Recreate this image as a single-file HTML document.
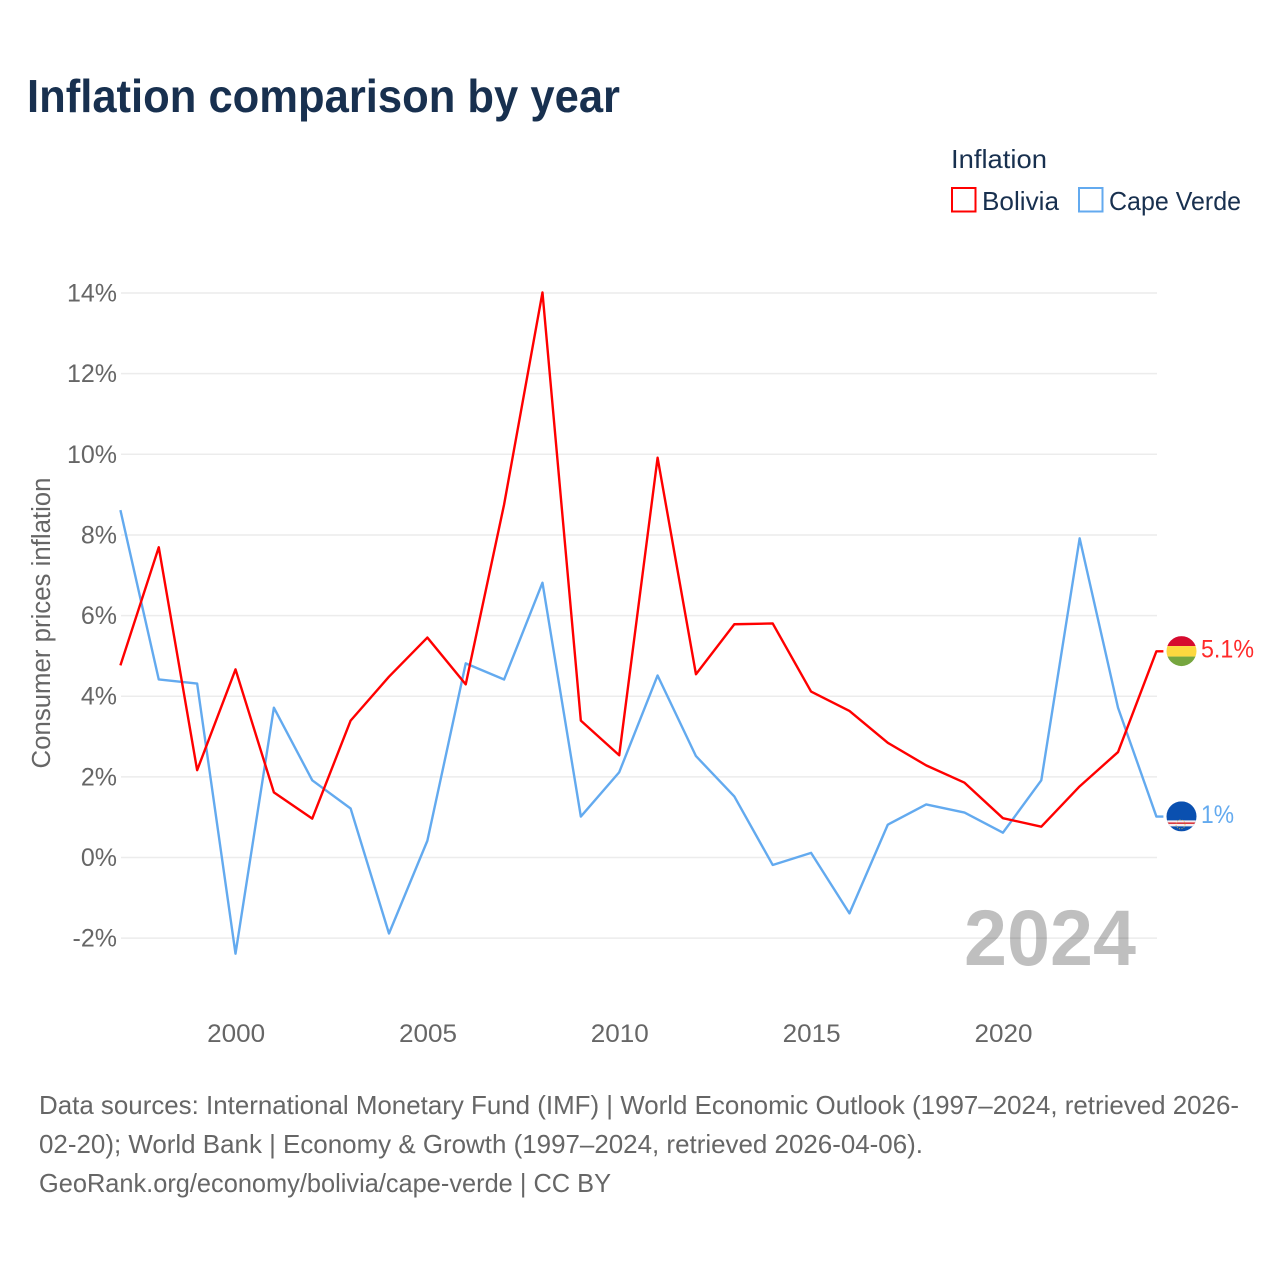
<!DOCTYPE html>
<html lang="en">
<head>
<meta charset="utf-8">
<title>Inflation comparison by year</title>
<style>
html,body{margin:0;padding:0;background:#fff;width:1280px;height:1280px;overflow:hidden}
svg{display:block}
text{font-family:"Liberation Sans",sans-serif}
</style>
</head>
<body>
<svg id="chart" width="1280" height="1280" viewBox="0 0 1280 1280" xmlns="http://www.w3.org/2000/svg">
  <defs>
    <clipPath id="flag-clip"><circle cx="0" cy="0" r="15"></circle></clipPath>
  </defs>
  <rect x="0" y="0" width="1280" height="1280" fill="#fff"></rect>
  <text x="27" y="112" font-size="46" font-weight="700" fill="#18304f" textLength="593" lengthAdjust="spacingAndGlyphs">Inflation comparison by year</text>

  <g>
    <text x="951" y="168" font-size="26" fill="#18304f" textLength="96" lengthAdjust="spacingAndGlyphs">Inflation</text>
    <g>
      <rect x="952" y="188" width="23.5" height="23.5" fill="none" stroke="#ff0000" stroke-width="2"></rect>
      <text x="982" y="210" font-size="26" fill="#18304f" textLength="77" lengthAdjust="spacingAndGlyphs">Bolivia</text>
    </g>
    <g>
      <rect x="1079" y="188" width="23.5" height="23.5" fill="none" stroke="#63aaef" stroke-width="2"></rect>
      <text x="1109" y="210" font-size="26" fill="#18304f" textLength="132" lengthAdjust="spacingAndGlyphs">Cape Verde</text>
    </g>
  </g>

  <g id="grid"></g>
  <g id="y-axis"></g>
  <g id="x-axis"></g>
  <text transform="translate(50,623) rotate(-90)" text-anchor="middle" font-size="25.5" fill="#666" textLength="291" lengthAdjust="spacingAndGlyphs">Consumer prices inflation</text>
  <text x="964" y="965" font-size="79" font-weight="700" fill="#000" fill-opacity="0.25" textLength="172" lengthAdjust="spacingAndGlyphs">2024</text>

  <g id="series" transform="translate(-0.6,-0.6)"></g>

  <g id="flag-bolivia">
    <g clip-path="url(#flag-clip)">
      <rect x="-15" y="-15" width="30" height="10" fill="#d60a2e"></rect>
      <rect x="-15" y="-5" width="30" height="10.5" fill="#fdd83f"></rect>
      <rect x="-15" y="5.5" width="30" height="10" fill="#76a63f"></rect>
    </g>
  </g>
  <g id="flag-cape-verde">
    <g clip-path="url(#flag-clip)">
      <rect x="-15" y="-15" width="30" height="30" fill="#0a50b0"></rect>
      <rect x="-15" y="4" width="30" height="6" fill="#f6eeee"></rect>
      <rect x="-15" y="6" width="30" height="1.6" fill="#d9363e"></rect>
      <circle cx="-1" cy="8" r="4.5" fill="none" stroke="#d8b94a" stroke-width="0.8" stroke-dasharray="1 1.5"></circle>
    </g>
  </g>

  <g font-size="26" fill="#666">
    <text x="39" y="1114" textLength="1200" lengthAdjust="spacingAndGlyphs">Data sources: International Monetary Fund (IMF) | World Economic Outlook (1997–2024, retrieved 2026-</text>
    <text x="39" y="1153" textLength="884" lengthAdjust="spacingAndGlyphs">02-20); World Bank | Economy &amp; Growth (1997–2024, retrieved 2026-04-06).</text>
    <text x="39" y="1192" textLength="572" lengthAdjust="spacingAndGlyphs">GeoRank.org/economy/bolivia/cape-verde | CC BY</text>
  </g>
</svg>
<script>
var years = [1997,1998,1999,2000,2001,2002,2003,2004,2005,2006,2007,2008,2009,2010,2011,2012,2013,2014,2015,2016,2017,2018,2019,2020,2021,2022,2023,2024];
var boliviaValues = [4.75,7.68,2.15,4.65,1.6,0.95,3.38,4.47,5.44,4.28,8.74,14,3.38,2.52,9.9,4.53,5.77,5.79,4.1,3.62,2.83,2.27,1.84,0.96,0.75,1.75,2.6,5.1];
var capeVerdeValues = [8.6,4.4,4.3,-2.4,3.7,1.9,1.2,-1.9,0.4,4.8,4.4,6.8,1.0,2.1,4.5,2.5,1.5,-0.2,0.1,-1.4,0.8,1.3,1.1,0.6,1.9,7.9,3.7,1.0];
var yTickValues = [-2,0,2,4,6,8,10,12,14];
var yTickLabels = ['-2%','0%','2%','4%','6%','8%','10%','12%','14%'];
var xTickValues = [2000,2005,2010,2015,2020];
var xTickLabels = ['2000','2005','2010','2015','2020'];
var endLabelBolivia = '5.1%';
var endLabelCapeVerde = '1%';

var NS = 'http://www.w3.org/2000/svg';
function xScale(year){ return 121 + (year - 1997) * (1157 - 121) / 27; }
function yScale(v){ return 857.5 - v * 40.32; }
function make(tag, parent){
  var el = document.createElementNS(NS, tag);
  parent.appendChild(el);
  return el;
}

var grid = document.getElementById('grid');
var yAxis = document.getElementById('y-axis');
var xAxis = document.getElementById('x-axis');
var seriesGroup = document.getElementById('series');
var root = document.getElementById('chart');

yTickValues.forEach(function(v, i){
  var line = make('line', grid);
  
  
  line.setAttribute('x1', 121);
  line.setAttribute('x2', 1157);
  line.setAttribute('y1', yScale(v));
  line.setAttribute('y2', yScale(v));
  line.setAttribute('stroke', '#ececec');
  line.setAttribute('stroke-width', '1.5');
  var t = make('text', yAxis);
  
  
  t.setAttribute('x', 117);
  t.setAttribute('y', yScale(v) + 8.5);
  t.setAttribute('text-anchor', 'end');
  t.setAttribute('font-size', '25');
  t.setAttribute('fill', '#666');
  t.textContent = yTickLabels[i];
});

xTickValues.forEach(function(year, i){
  var t = make('text', xAxis);
  
  
  t.setAttribute('x', xScale(year));
  t.setAttribute('y', 1042);
  t.setAttribute('text-anchor', 'middle');
  t.setAttribute('font-size', '25');
  t.setAttribute('fill', '#666');
  t.setAttribute('textLength', '58');
  t.setAttribute('lengthAdjust', 'spacingAndGlyphs');
  t.textContent = xTickLabels[i];
});

function pathFor(values){
  var d = values.map(function(v, i){
    return (i ? 'L' : 'M') + xScale(years[i]).toFixed(2) + ' ' + yScale(v).toFixed(2);
  }).join(' ');
  var last = values[values.length - 1];
  return d + ' L ' + (xScale(years[years.length - 1]) + 7) + ' ' + yScale(last).toFixed(2);
}

var capeLine = make('path', seriesGroup);


capeLine.setAttribute('d', pathFor(capeVerdeValues));
capeLine.setAttribute('fill', 'none');
capeLine.setAttribute('stroke', '#63aaef');
capeLine.setAttribute('stroke-width', '2.4');
capeLine.setAttribute('stroke-linejoin', 'round');

var bolLine = make('path', seriesGroup);


bolLine.setAttribute('d', pathFor(boliviaValues));
bolLine.setAttribute('fill', 'none');
bolLine.setAttribute('stroke', '#ff0000');
bolLine.setAttribute('stroke-width', '2.4');
bolLine.setAttribute('stroke-linejoin', 'round');

var bolLast = boliviaValues[boliviaValues.length - 1];
var capeLast = capeVerdeValues[capeVerdeValues.length - 1];
document.getElementById('flag-bolivia').setAttribute('transform', 'translate(1181.5,' + (yScale(bolLast) - 0.8) + ')');
document.getElementById('flag-cape-verde').setAttribute('transform', 'translate(1181.5,' + (yScale(capeLast) - 0.8) + ')');

var bolEnd = make('text', root);


bolEnd.setAttribute('x', 1201);
bolEnd.setAttribute('y', yScale(bolLast) + 5.5);
bolEnd.setAttribute('font-size', '25');
bolEnd.setAttribute('fill', '#ff2a2a');
bolEnd.setAttribute('textLength', '53');
bolEnd.setAttribute('lengthAdjust', 'spacingAndGlyphs');
bolEnd.textContent = endLabelBolivia;

var capeEnd = make('text', root);


capeEnd.setAttribute('x', 1201);
capeEnd.setAttribute('y', yScale(capeLast) + 6);
capeEnd.setAttribute('font-size', '25');
capeEnd.setAttribute('fill', '#63aaef');
capeEnd.setAttribute('textLength', '33');
capeEnd.setAttribute('lengthAdjust', 'spacingAndGlyphs');
capeEnd.textContent = endLabelCapeVerde;
</script>
</body>
</html>
